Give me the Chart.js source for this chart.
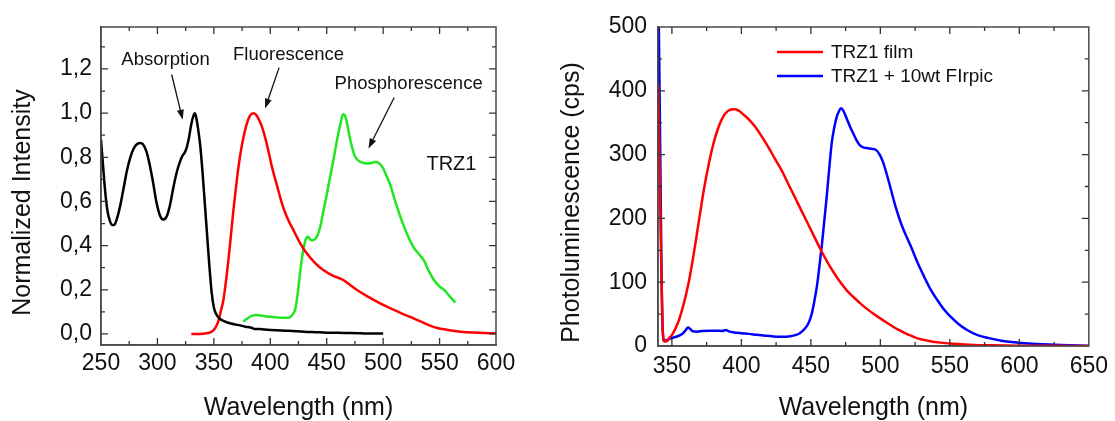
<!DOCTYPE html>
<html><head><meta charset="utf-8">
<script src="https://cdn.jsdelivr.net/npm/chart.js@4.4.1/dist/chart.umd.min.js"></script>
<style>
html,body{margin:0;padding:0;background:#fff;}
body{width:1115px;height:421px;position:relative;overflow:hidden;}
canvas{position:absolute;top:0;}
#c1{left:0}
#c2{left:545px}
</style></head><body>
<canvas id="c1" width="545" height="421"></canvas>
<canvas id="c2" width="570" height="421"></canvas>
<script>
// ---------- Left panel data ----------
const absWl = [250,252,254,256,258,260,262,264,267,270,273,276,279,282,285,287,290,293,296,299,302,305,308,311,314,317,320,322,324,326,328,330,332,333,334,336,338,340,342,344,346,348,350,352,355,360,366,372,378,384,386,390,395,400,410,420,430,440,450,460,470,480,490,500];
const absInt = [0.88,0.75,0.63,0.55,0.51,0.493,0.495,0.52,0.58,0.66,0.74,0.80,0.84,0.86,0.865,0.86,0.83,0.77,0.69,0.60,0.54,0.518,0.53,0.58,0.66,0.73,0.78,0.805,0.82,0.845,0.89,0.95,0.99,1.0,0.99,0.93,0.85,0.73,0.59,0.45,0.31,0.19,0.12,0.09,0.07,0.056,0.046,0.04,0.033,0.027,0.022,0.023,0.02,0.018,0.016,0.013,0.01,0.008,0.006,0.005,0.004,0.003,0.002,0.002];

const fluWl = [330,335,340,345,348,351,354,356,358.5,361,363,365,367.3,369.5,371.8,374,376.2,378.5,380.7,383,385.1,387.3,389.5,392.5,395.4,398.3,401.3,405,408.7,412,416,420.5,426,432.3,440,447,455,464.8,470,476.6,486,497.3,510,520,526.9,534,541.6,548,556.4,565,574,585,600];
const fluInt = [0,0,0.001,0.004,0.01,0.025,0.058,0.1,0.155,0.25,0.34,0.44,0.56,0.66,0.755,0.83,0.89,0.94,0.975,0.995,1.0,0.993,0.975,0.94,0.89,0.83,0.76,0.69,0.62,0.565,0.515,0.47,0.415,0.365,0.32,0.29,0.265,0.244,0.225,0.2,0.17,0.139,0.108,0.085,0.071,0.055,0.038,0.027,0.019,0.012,0.008,0.005,0.003];

const phoWl = [376,379,382,385,388,391,395,399,403,407,411,415,418,420,422,424,426,428,430,432,433.5,435,437,439.5,442,444.5,447,450,453,456,459,462,464.5,466,468,470,472.5,475,478,482,486,490,494,497,500,503,506,509,512,516,521,525,528,532,536,540,545,550,554,559,564];
const phoInt = [0.056,0.068,0.078,0.084,0.086,0.084,0.08,0.078,0.077,0.074,0.073,0.073,0.078,0.09,0.11,0.17,0.26,0.34,0.40,0.435,0.44,0.43,0.424,0.428,0.448,0.49,0.555,0.63,0.71,0.79,0.875,0.95,0.995,0.99,0.955,0.9,0.845,0.805,0.785,0.775,0.772,0.775,0.78,0.77,0.75,0.715,0.68,0.63,0.58,0.52,0.455,0.41,0.385,0.36,0.334,0.29,0.244,0.215,0.2,0.17,0.142];

// ---------- Right panel data ----------
const filmWl = [340.2,341,342,343,344,345,346.5,348,350,352,355,358,360.5,362.4,366,369.5,373,376.6,380,383.7,387,390.8,395,398,400.3,405,409.8,414.5,419.3,424,428.8,433.5,438.3,443,447.8,452.5,457.3,462,466.8,471.5,476.3,481,486,491,498,505,512.5,520,526.7,535,543.4,555,567,580,600,625,650];
const filmPL = [410,300,170,55,9,7,8,12,17,25,40,62,84,103,148,197,245,286,318,344,360,369,371,369,365,356,344,329,312,294,276,255,234,213,192,171,150,131,114,99,86,76,66,57,46,36,26,18,12,8,5.3,3,1.6,1,0.5,0.2,0.1];

const dopedWl = [340.5,341.5,342.5,343.5,344.5,346,348,350,353,356,358,360,361.6,363,365,368,372,377,382,386,389,391,394,400,405.6,411,417.5,423,429.4,434,438.8,442,445.9,448.5,450.7,452.5,454.3,456,457.8,459.6,461.4,463.2,465,466.8,468.6,470.2,471.7,473.5,475.7,478,480.5,483,485.2,488,491,494,497,499.5,501.8,504.5,507.7,511,514.9,518.5,522,526.5,531.5,536,541,545.5,550.5,556,562.4,570,579,588,598,607,617,630,648,650];
const dopedPL = [520,330,120,20,8,9,11,12.5,14.5,17,20,25,29,27,23,22.5,23.5,24,24,23.5,25,23,21.5,20,19,17.5,16,15,14.6,15,17,20,27.7,37,51,70,93,122,156,195,234,278,318,342,359,368,372.5,368,357,345,333,322,315,311,310,309,307,300,289,270,244.5,218,192,173,156,132,108.6,89,72,58,46,35,25,17,12,8,5.3,3.8,2.6,1.5,0.5,0.4];

// ---------- Tick labels ----------
const leftXTicks = [250,300,350,400,450,500,550,600];
const leftYTicks = ['0,0','0,2','0,4','0,6','0,8','1,0','1,2'];
const rightXTicks = [350,400,450,500,550,600,650];
const rightYTicks = [0,100,200,300,400,500];

const FONT = "'Liberation Sans', Arial, Helvetica, sans-serif";
Chart.defaults.font.family = FONT;
Chart.defaults.color = '#111';
const FRAME = '#4a4a4a';

const isMajor = (v, step) => Math.abs(v / step - Math.round(v / step)) < 1e-6;
const pts = (xs, ys) => xs.map((x, i) => ({x, y: ys[i]}));
const lineDs = (label, xs, ys, color) => ({
  label, data: pts(xs, ys), borderColor: color, backgroundColor: color,
  borderWidth: 2.5, pointRadius: 0, fill: false, cubicInterpolationMode: 'monotone'
});

const decor = {
  id: 'decor',
  afterDraw(chart, args, o) {
    const {ctx, chartArea: a, scales: {x, y}} = chart;
    ctx.save();
    // frame
    ctx.strokeStyle = FRAME; ctx.lineWidth = 1.5;
    ctx.strokeRect(a.left, a.top, a.right - a.left, a.bottom - a.top);
    // inward ticks on all four sides
    ctx.lineWidth = 1.3; ctx.strokeStyle = '#333';
    ctx.beginPath();
    x.ticks.forEach(t => {
      const p = x.getPixelForValue(t.value);
      if (p < a.left + 1.5 || p > a.right - 1.5) return;
      const L = isMajor(t.value, o.xMajor) ? 7 : 4;
      ctx.moveTo(p, a.bottom); ctx.lineTo(p, a.bottom - L);
      ctx.moveTo(p, a.top); ctx.lineTo(p, a.top + L);
    });
    y.ticks.forEach(t => {
      const p = y.getPixelForValue(t.value);
      if (p < a.top + 1.5 || p > a.bottom - 1.5) return;
      const L = isMajor(t.value, o.yMajor) ? 7 : 4;
      ctx.moveTo(a.left, p); ctx.lineTo(a.left + L, p);
      ctx.moveTo(a.right, p); ctx.lineTo(a.right - L, p);
    });
    ctx.stroke();
    // y title
    ctx.fillStyle = '#111';
    ctx.save();
    ctx.font = o.yTitle.size + 'px ' + FONT;
    ctx.translate(o.yTitle.x, (a.top + a.bottom) / 2 + o.yTitle.dy);
    ctx.rotate(-Math.PI / 2);
    ctx.textAlign = 'center'; ctx.textBaseline = 'middle';
    ctx.fillText(o.yTitle.text, 0, 0);
    ctx.restore();
    // notes
    ctx.textBaseline = 'middle';
    (o.notes || []).forEach(n => {
      ctx.font = n.size + 'px ' + FONT;
      ctx.textAlign = 'center';
      ctx.fillText(n.text, x.getPixelForValue(n.x), y.getPixelForValue(n.y));
    });
    // arrows
    ctx.strokeStyle = '#111'; ctx.fillStyle = '#111'; ctx.lineWidth = 1.3;
    (o.arrows || []).forEach(ar => {
      const x1 = x.getPixelForValue(ar.x1), y1 = y.getPixelForValue(ar.y1);
      const x2 = x.getPixelForValue(ar.x2), y2 = y.getPixelForValue(ar.y2);
      const ang = Math.atan2(y2 - y1, x2 - x1), hl = 10, hw = 3.5;
      const bx = x2 - hl * Math.cos(ang), by = y2 - hl * Math.sin(ang);
      ctx.beginPath(); ctx.moveTo(x1, y1); ctx.lineTo(bx, by); ctx.stroke();
      ctx.beginPath(); ctx.moveTo(x2, y2);
      ctx.lineTo(bx + hw * Math.sin(ang), by - hw * Math.cos(ang));
      ctx.lineTo(bx - hw * Math.sin(ang), by + hw * Math.cos(ang));
      ctx.closePath(); ctx.fill();
    });
    // legend inside plot
    if (o.legend) {
      const L = o.legend;
      chart.data.datasets.forEach((ds, i) => {
        const yy = a.top + L.top + i * L.gap;
        ctx.strokeStyle = ds.borderColor; ctx.lineWidth = 2.5;
        ctx.beginPath(); ctx.moveTo(a.left + L.x, yy); ctx.lineTo(a.left + L.x + L.len, yy); ctx.stroke();
        ctx.fillStyle = '#111'; ctx.font = L.size + 'px ' + FONT;
        ctx.textAlign = 'left'; ctx.textBaseline = 'middle';
        ctx.fillText(ds.label, a.left + L.textX, yy + 1);
      });
    }
    ctx.restore();
  }
};

const axisBase = (min, max, step, labels, fmt, pad, size) => ({
  type: 'linear', min, max,
  ticks: {
    stepSize: step, autoSkip: false, includeBounds: false, maxRotation: 0, minRotation: 0,
    padding: pad, font: {size: 23}, color: '#111',
    callback: v => { const i = labels.findIndex(l => Math.abs(fmt(l) - v) < 1e-6); return i >= 0 ? String(labels[i]) : ''; }
  },
  grid: {drawOnChartArea: false, drawTicks: false},
  border: {display: true, color: FRAME, width: 1.5},
  afterFit: s => { if (s.isHorizontal()) s.height = size; else s.width = size; }
});

// Left chart
const lx = axisBase(250, 600, 25, leftXTicks, Number, 5, 76);
lx.title = {display: true, text: 'Wavelength (nm)', font: {size: 25, lineHeight: 1}, padding: 0, color: '#111'};
const ly = axisBase(-0.05, 1.39, 0.1, leftYTicks, l => parseFloat(l.replace(',', '.')), 9, 101);

new Chart(document.getElementById('c1'), {
  type: 'line',
  data: {datasets: [
    lineDs('Absorption', absWl, absInt, '#000000'),
    lineDs('Fluorescence', fluWl, fluInt, '#ff0000'),
    lineDs('Phosphorescence', phoWl, phoInt, '#22e622')
  ]},
  options: {
    responsive: false, animation: false, devicePixelRatio: 1,
    layout: {padding: {top: 27, right: 49, left: 0, bottom: 0}},
    scales: {x: lx, y: ly},
    plugins: {
      legend: {display: false}, tooltip: {enabled: false},
      decor: {
        xMajor: 50, yMajor: 0.2,
        yTitle: {text: 'Normalized Intensity', size: 25, x: 23, dy: 16.5},
        notes: [
          {text: 'Absorption', x: 307.2, y: 1.243, size: 18.5},
          {text: 'Fluorescence', x: 416.2, y: 1.265, size: 18.5},
          {text: 'Phosphorescence', x: 522.6, y: 1.134, size: 18.5},
          {text: 'TRZ1', x: 560.5, y: 0.768, size: 20}
        ],
        arrows: [
          {x1: 312.6, y1: 1.175, x2: 322.4, y2: 0.97},
          {x1: 407.8, y1: 1.206, x2: 395.4, y2: 1.021},
          {x1: 509.8, y1: 1.071, x2: 487.0, y2: 0.84}
        ]
      }
    }
  },
  plugins: [decor]
});

// Right chart
const rx = axisBase(340, 650, 25, rightXTicks, Number, 7, 75);
rx.title = {display: true, text: 'Wavelength (nm)', font: {size: 25, lineHeight: 1}, padding: 0, color: '#111'};
const ry = axisBase(0, 500, 50, rightYTicks, Number, 11, 113);

new Chart(document.getElementById('c2'), {
  type: 'line',
  data: {datasets: [
    lineDs('TRZ1 film', filmWl, filmPL, '#ff0000'),
    lineDs('TRZ1 + 10wt FIrpic', dopedWl, dopedPL, '#0000ff')
  ]},
  options: {
    responsive: false, animation: false, devicePixelRatio: 1,
    layout: {padding: {top: 27, right: 22, left: 0, bottom: 0}},
    scales: {x: rx, y: ry},
    plugins: {
      legend: {display: false}, tooltip: {enabled: false},
      decor: {
        xMajor: 50, yMajor: 100,
        yTitle: {text: 'Photoluminescence (cps)', size: 25, x: 27, dy: 16},
        legend: {x: 119, len: 46, textX: 173, top: 25, gap: 24, size: 19}
      }
    }
  },
  plugins: [decor]
});
</script>
</body></html>
